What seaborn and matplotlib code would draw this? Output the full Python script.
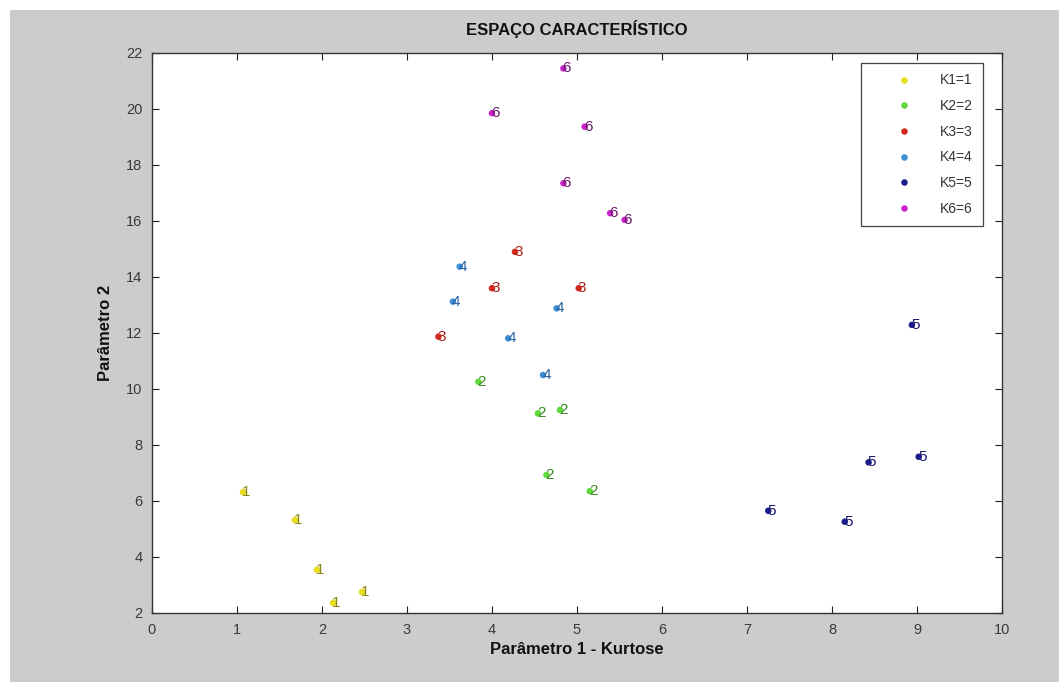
"""
plot.py - Espaço característico: scatter of 6 clusters (K1..K6) with numeric labels.
"""

import numpy as np
import pandas as pd
import matplotlib
matplotlib.use("Agg")
import matplotlib.pyplot as plt
from matplotlib.patches import Rectangle
import seaborn as sns

# Data
k1_x = [1.07, 1.68, 1.94, 2.13, 2.47]
k1_y = [6.32, 5.32, 3.54, 2.36, 2.75]
k2_x = [3.84, 4.54, 4.80, 4.64, 5.15]
k2_y = [10.26, 9.13, 9.25, 6.93, 6.35]
k3_x = [4.27, 4.00, 5.02, 3.37]
k3_y = [14.90, 13.60, 13.60, 11.87]
k4_x = [3.62, 3.54, 4.76, 4.19, 4.60]
k4_y = [14.37, 13.12, 12.88, 11.81, 10.50]
k5_x = [8.94, 8.43, 9.02, 7.25, 8.15]
k5_y = [12.29, 7.38, 7.58, 5.65, 5.26]
k6_x = [4.84, 4.00, 5.09, 4.84, 5.39, 5.56]
k6_y = [21.45, 19.85, 19.37, 17.35, 16.28, 16.04]

CLASS_LABELS = ["K1=1", "K2=2", "K3=3", "K4=4", "K5=5", "K6=6"]
POINT_TEXT = ["1", "2", "3", "4", "5", "6"]
MARKER_COLORS = ["#e8dc1e", "#5ed83a", "#d42a1e", "#3d8fd6", "#1c1c8c", "#cc22cc"]
TEXT_COLORS = ["#8a8410", "#3a8a28", "#a81c18", "#2a62a0", "#16166e", "#661866"]

BG_GRAY = "#cccccc"


def build_frame():
    xs = [k1_x, k2_x, k3_x, k4_x, k5_x, k6_x]
    ys = [k1_y, k2_y, k3_y, k4_y, k5_y, k6_y]
    rows = []
    for i, (x, y) in enumerate(zip(xs, ys)):
        for xv, yv in zip(x, y):
            rows.append({"x": xv, "y": yv, "classe": CLASS_LABELS[i], "num": POINT_TEXT[i], "idx": i})
    return pd.DataFrame(rows)


def main():
    df = build_frame()

    sns.set_theme(style="white")
    plt.rcParams['font.family'] = ['Liberation Sans', 'DejaVu Sans']

    fig = plt.figure(figsize=(10.59, 6.82), dpi=100)
    fig.patch.set_facecolor("white")
    # gray figure area with thin white margin on top / left
    fig.patches.append(Rectangle((10 / 1059, 0), 1, (682 - 10) / 682,
                                 transform=fig.transFigure, facecolor=BG_GRAY,
                                 edgecolor="none", zorder=-10))

    ax = fig.add_axes([152 / 1059, (682 - 613) / 682, 850 / 1059, 560 / 682])
    ax.set_facecolor("white")

    sns.scatterplot(data=df, x="x", y="y", hue="classe", hue_order=CLASS_LABELS,
                    palette=MARKER_COLORS, s=22, linewidth=0, ax=ax, zorder=3)

    for _, r in df.iterrows():
        ax.text(r["x"] - 0.01, r["y"], r["num"], color=TEXT_COLORS[r["idx"]],
                fontsize=11, ha="left", va="center", zorder=4)

    ax.set_xlim(0, 10)
    ax.set_ylim(2, 22)
    ax.set_xticks(np.arange(0, 11, 1))
    ax.set_yticks(np.arange(2, 23, 2))
    ax.tick_params(direction="in", length=5, width=0.8, colors="#222222",
                   labelsize=10.5, top=True, right=True, bottom=True, left=True,
                   labelcolor="#3a3a3a", pad=7)
    for s in ax.spines.values():
        s.set_visible(True)
        s.set_color("#333333")
        s.set_linewidth(1.0)

    ax.set_title("ESPAÇO CARACTERÍSTICO", fontsize=12, fontweight="bold",
                 color="#111111", pad=13)
    ax.set_xlabel("Parâmetro 1 - Kurtose", fontsize=12, fontweight="bold",
                  color="#111111", labelpad=4)
    ax.set_ylabel("Parâmetro 2", fontsize=12, fontweight="bold",
                  color="#111111", labelpad=9)

    leg = ax.legend(loc="upper right", bbox_to_anchor=(0.978, 0.982),
                    borderaxespad=0, frameon=True, fancybox=False,
                    edgecolor="#444444", framealpha=1, fontsize=10,
                    labelspacing=0.84, handlelength=4.7, handletextpad=0.2,
                    borderpad=0.75, markerscale=1.0)
    leg.get_frame().set_linewidth(0.9)
    for t in leg.get_texts():
        t.set_color("#333333")

    fig.savefig("out.png", dpi=100, facecolor=fig.get_facecolor())
    plt.close(fig)


if __name__ == '__main__':
    main()
